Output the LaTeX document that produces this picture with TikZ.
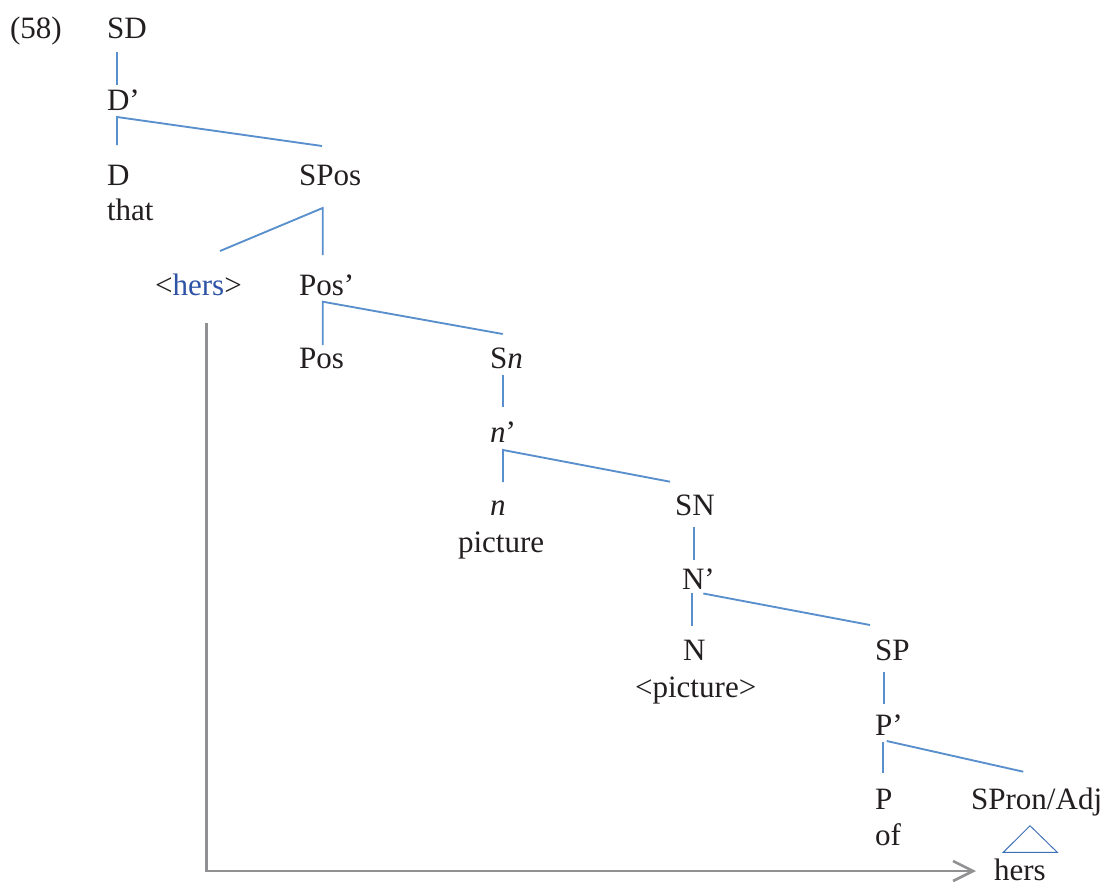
\documentclass[tikz,border=0pt]{standalone}
\usepackage{fontspec}
\setmainfont{Liberation Serif}
\usetikzlibrary{arrows.meta}
\definecolor{ink}{RGB}{35,31,32}
\definecolor{branch}{RGB}{88,143,204}
\definecolor{trace}{RGB}{47,84,166}
\definecolor{roof}{RGB}{60,112,182}
\definecolor{move}{RGB}{145,145,148}
\begin{document}
\begin{tikzpicture}[x=0.75pt,y=-0.75pt,
  lbl/.style={anchor=base west,inner sep=0pt,outer sep=0pt,text=ink,
    font=\fontsize{23.3}{28}\selectfont},
  edge/.style={draw=branch,line width=1.4pt},
  roofline/.style={draw=roof,line width=0.7pt,line join=miter},
  movement/.style={draw=move,line width=2pt,
    -{Straight Barb[length=15pt,width=15pt,line width=2pt]}}]
\useasboundingbox (0,0) rectangle (1114,885);

% labels
\node[lbl] (ex)    at (10,38)   {(58)};
\node[lbl] (SD)    at (107,38)  {SD};
\node[lbl] (Dbar)  at (107,110) {D’};
\node[lbl] (D)     at (107,185) {D};
\node[lbl] (that)  at (107,220) {that};
\node[lbl] (SPos)  at (299,185) {SPos};
\node[lbl] (hersT) at (155,295) {<\textcolor{trace}{hers}>};
\node[lbl] (Posbar) at (299,295) {Pos’};
\node[lbl] (Pos)   at (299,368) {Pos};
\node[lbl] (Sn)    at (490,368) {S\textit{n}};
\node[lbl] (nbar)  at (490,442) {\textit{n}’};
\node[lbl] (n)     at (490,515) {\textit{n}};
\node[lbl] (pic)   at (458,552) {picture};
\node[lbl] (SN)    at (675,515) {SN};
\node[lbl] (Nbar)  at (682,589) {N’};
\node[lbl] (N)     at (683,660) {N};
\node[lbl] (picT)  at (635,697) {<picture>};
\node[lbl] (SP)    at (875,660) {SP};
\node[lbl] (Pbar)  at (875,735) {P’};
\node[lbl] (P)     at (875,809) {P};
\node[lbl] (of)    at (875,845) {of};
\node[lbl] (SPron) at (971,809) {SPron/Adj};
\node[lbl] (hers)  at (994,880) {hers};

% branch points
\coordinate (jSD)   at (117,52);
\coordinate (jDbarU) at (117,85);
\coordinate (jDbar) at (117,117);
\coordinate (jD)    at (117,145);
\coordinate (jSPosU) at (322,146);
\coordinate (jSPos) at (322.7,208);
\coordinate (jHers) at (220,251);
\coordinate (jPosbarU) at (322.7,255);
\coordinate (jPosbar) at (322.7,301.7);
\coordinate (jPos)  at (322.7,345);
\coordinate (jSnU)  at (502.7,334);
\coordinate (jSn)   at (503,375);
\coordinate (jnbarU) at (503,407);
\coordinate (jnbar) at (503,450);
\coordinate (jn)    at (503,482);
\coordinate (jSNU)  at (670,481.7);
\coordinate (jSN)   at (694,527);
\coordinate (jNbarU) at (694,560);
\coordinate (jNbarL) at (692.3,593);
\coordinate (jN)    at (692.3,626);
\coordinate (jNbarR) at (703.3,593.5);
\coordinate (jSPU)  at (870,625);
\coordinate (jSP)   at (884,672);
\coordinate (jPbarU) at (884,704);
\coordinate (jPbarL) at (882.7,741.7);
\coordinate (jP)    at (882.7,773);
\coordinate (jPbarR) at (886.7,741);
\coordinate (jSPronU) at (1023.3,771.7);
\coordinate (rTop)  at (1030,825.7);
\coordinate (rL)    at (1003.3,852.3);
\coordinate (rR)    at (1057.3,852.3);
\coordinate (mvTop) at (206.7,322.7);
\coordinate (mvEnd) at (976,871);

% tree branches
\draw[edge] (jSD) -- (jDbarU);
\draw[edge] (jD) -- (jDbar) -- (jSPosU);
\draw[edge] (jHers) -- (jSPos) -- (jPosbarU);
\draw[edge] (jPos) -- (jPosbar) -- (jSnU);
\draw[edge] (jSn) -- (jnbarU);
\draw[edge] (jn) -- (jnbar) -- (jSNU);
\draw[edge] (jSN) -- (jNbarU);
\draw[edge] (jNbarL) -- (jN);
\draw[edge] (jNbarR) -- (jSPU);
\draw[edge] (jSP) -- (jPbarU);
\draw[edge] (jPbarL) -- (jP);
\draw[edge] (jPbarR) -- (jSPronU);

% roof over the phrase
\draw[roofline] (rTop) -- (rL) -- (rR) -- cycle;

% movement arrow from the trace to the landing site
\draw[movement] (mvTop) |- (mvEnd);
\end{tikzpicture}
\end{document}
